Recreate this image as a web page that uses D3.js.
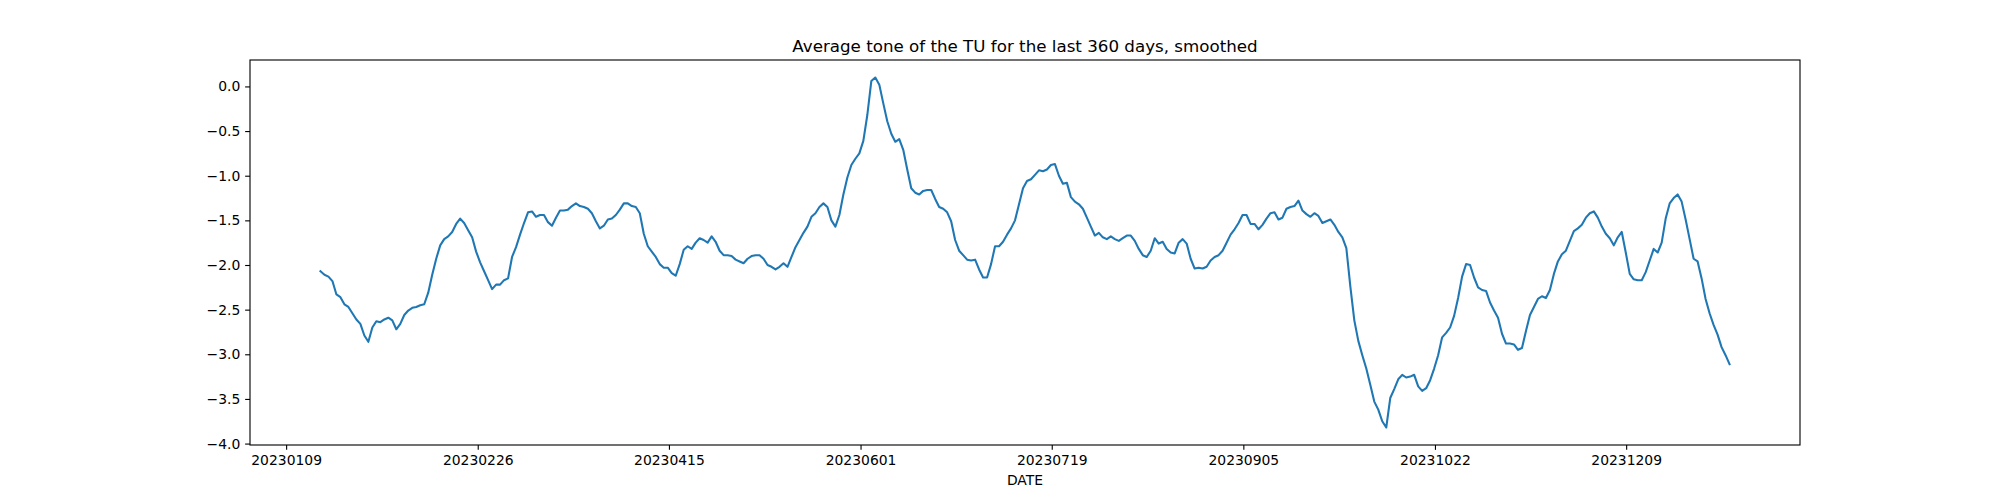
<!DOCTYPE html>
<html>
<head>
<meta charset="utf-8">
<script src="https://cdn.jsdelivr.net/npm/d3@7"></script>
<style>
  body { margin: 0; background: #fff; }
  svg { display: block; font-family: "DejaVu Sans", sans-serif; }
</style>
</head>
<body>
<svg id="chart" width="2000" height="500"></svg>
<script>

// chart texts
const title = "Average tone of the TU for the last 360 days, smoothed";
const xLabel = "DATE";

// smoothed average tone, one value per sample
const tone = [
  -2.07, -2.11, -2.13, -2.18, -2.33, -2.36, -2.44, -2.47, -2.54, -2.61,
  -2.66, -2.79, -2.86, -2.70, -2.63, -2.64, -2.61, -2.59, -2.62, -2.72,
  -2.66, -2.56, -2.51, -2.48, -2.47, -2.45, -2.44, -2.31, -2.11, -1.93,
  -1.78, -1.71, -1.68, -1.63, -1.54, -1.48, -1.53, -1.61, -1.69, -1.85,
  -1.97, -2.07, -2.17, -2.27, -2.22, -2.22, -2.17, -2.15, -1.91, -1.80,
  -1.66, -1.53, -1.41, -1.40, -1.46, -1.44, -1.44, -1.52, -1.56, -1.47,
  -1.39, -1.39, -1.38, -1.34, -1.31, -1.34, -1.35, -1.37, -1.42, -1.51,
  -1.59, -1.56, -1.49, -1.48, -1.44, -1.38, -1.31, -1.31, -1.34, -1.35,
  -1.42, -1.65, -1.79, -1.85, -1.91, -1.99, -2.03, -2.03, -2.09, -2.12,
  -1.99, -1.83, -1.79, -1.82, -1.75, -1.70, -1.72, -1.75, -1.68, -1.74,
  -1.84, -1.89, -1.89, -1.90, -1.94, -1.96, -1.98, -1.93, -1.90, -1.89,
  -1.89, -1.93, -2.00, -2.02, -2.05, -2.02, -1.98, -2.02, -1.91, -1.80,
  -1.72, -1.64, -1.57, -1.46, -1.42, -1.35, -1.31, -1.35, -1.50, -1.57,
  -1.44, -1.21, -1.02, -0.88, -0.81, -0.75, -0.61, -0.32, 0.06, 0.10,
  0.02, -0.19, -0.39, -0.53, -0.62, -0.59, -0.71, -0.93, -1.14, -1.19,
  -1.21, -1.17, -1.16, -1.16, -1.26, -1.35, -1.37, -1.41, -1.51, -1.72,
  -1.84, -1.89, -1.94, -1.95, -1.94, -2.05, -2.14, -2.14, -1.99, -1.79,
  -1.79, -1.74, -1.66, -1.59, -1.50, -1.32, -1.14, -1.06, -1.04, -0.99,
  -0.94, -0.95, -0.93, -0.88, -0.87, -1.00, -1.09, -1.08, -1.24, -1.29,
  -1.32, -1.37, -1.47, -1.57, -1.67, -1.64, -1.69, -1.71, -1.68, -1.71,
  -1.73, -1.70, -1.67, -1.67, -1.73, -1.82, -1.89, -1.91, -1.84, -1.70,
  -1.76, -1.74, -1.82, -1.86, -1.87, -1.75, -1.71, -1.76, -1.93, -2.04,
  -2.03, -2.04, -2.02, -1.95, -1.91, -1.89, -1.84, -1.75, -1.66, -1.60,
  -1.53, -1.44, -1.44, -1.54, -1.54, -1.60, -1.55, -1.48, -1.42, -1.41,
  -1.49, -1.47, -1.37, -1.35, -1.34, -1.28, -1.39, -1.43, -1.46, -1.42,
  -1.45, -1.53, -1.51, -1.49, -1.55, -1.63, -1.69, -1.81, -2.24, -2.62,
  -2.85, -3.01, -3.16, -3.34, -3.53, -3.62, -3.75, -3.82, -3.49, -3.39,
  -3.28, -3.23, -3.26, -3.25, -3.23, -3.36, -3.41, -3.38, -3.29, -3.16,
  -3.01, -2.81, -2.76, -2.70, -2.57, -2.37, -2.13, -1.99, -2.00, -2.14,
  -2.25, -2.28, -2.29, -2.42, -2.51, -2.59, -2.77, -2.88, -2.88, -2.89,
  -2.95, -2.93, -2.74, -2.56, -2.47, -2.38, -2.35, -2.37, -2.28, -2.10,
  -1.96, -1.88, -1.84, -1.73, -1.62, -1.59, -1.55, -1.47, -1.42, -1.40,
  -1.47, -1.57, -1.65, -1.70, -1.78, -1.69, -1.63, -1.86, -2.10, -2.16,
  -2.17, -2.17, -2.08, -1.95, -1.82, -1.86, -1.75, -1.48, -1.31, -1.25,
  -1.21, -1.29, -1.49, -1.71, -1.93, -1.96, -2.15, -2.38, -2.54, -2.67,
  -2.78, -2.92, -3.01, -3.11
];

// x tick positions (sample index) and their date labels
const xTickPos = [-8.6, 39.4, 87.3, 135.3, 183.2, 231.2, 279.2, 327.1];
const xTickLabels = [
  "20230109", "20230226", "20230415", "20230601",
  "20230719", "20230905", "20231022", "20231209"
];

// y ticks
const yTicks = [0.0, -0.5, -1.0, -1.5, -2.0, -2.5, -3.0, -3.5, -4.0];


class ToneChart {

  constructor(svgId, values,
    margin={top: 60, right: 200, bottom: 55, left: 250}) {

    this.svg = d3.select(`#${svgId}`);
    this.width = +this.svg.attr("width");
    this.height = +this.svg.attr("height");
    this.margin = margin;
    this.values = values;

    this.x = this.setXScale();
    this.y = this.setYScale();

    this.drawLine();
    this.setXAxis();
    this.setYAxis();
    this.drawFrame();
    this.drawTexts();
  }

  /* x scale, 5% padding like matplotlib */
  setXScale() {
    let n = this.values.length - 1;
    let pad = n * 0.05;
    return d3.scaleLinear()
      .domain([-pad, n + pad])
      .range([this.margin.left, this.width - this.margin.right]);
  }

  /* y scale, 5% padding */
  setYScale() {
    let [lo, hi] = d3.extent(this.values);
    let pad = (hi - lo) * 0.05;
    return d3.scaleLinear()
      .domain([lo - pad, hi + pad])
      .range([this.height - this.margin.bottom, this.margin.top]);
  }

  drawLine() {
    let line = d3.line()
      .x((d, i) => this.x(i))
      .y(d => this.y(d));

    this.svg.append("path")
      .datum(this.values)
      .attr("fill", "none")
      .attr("stroke", "#1f77b4")
      .attr("stroke-width", 2.08)
      .attr("stroke-linejoin", "round")
      .attr("stroke-linecap", "square")
      .attr("d", line);
  }

  setXAxis() {
    let g = this.svg.append("g")
      .attr("class", "x-axis")
      .attr("transform", `translate(0,${this.height - this.margin.bottom})`)
      .call(
        d3.axisBottom(this.x)
          .tickValues(xTickPos)
          .tickSize(4.86)
          .tickSizeOuter(0)
          .tickPadding(4.86)
          .tickFormat((d, i) => xTickLabels[i])
      );
    this.styleAxis(g);
    g.selectAll("text").attr("dy", "0.76em");
  }

  setYAxis() {
    let g = this.svg.append("g")
      .attr("class", "y-axis")
      .attr("transform", `translate(${this.margin.left},0)`)
      .call(
        d3.axisLeft(this.y)
          .tickValues(yTicks)
          .tickSize(4.86)
          .tickSizeOuter(0)
          .tickPadding(4.86)
          .tickFormat(d3.format(".1f"))
      );
    this.styleAxis(g);
  }

  styleAxis(g) {
    g.select("path.domain").remove();
    g.selectAll("line")
      .attr("stroke", "#000")
      .attr("stroke-width", 1.11);
    g.selectAll("text")
      .attr("fill", "#000")
      .style("font-size", "13.9px")
      .style("font-family", "DejaVu Sans");
  }

  /* axes box */
  drawFrame() {
    this.svg.append("rect")
      .attr("x", this.margin.left)
      .attr("y", this.margin.top)
      .attr("width", this.width - this.margin.left - this.margin.right)
      .attr("height", this.height - this.margin.top - this.margin.bottom)
      .attr("fill", "none")
      .attr("stroke", "#000")
      .attr("stroke-width", 1.11);
  }

  drawTexts() {
    let cx = (this.margin.left + this.width - this.margin.right) / 2;

    this.svg.append("text")
      .attr("x", cx)
      .attr("y", this.margin.top - 8.3)
      .attr("text-anchor", "middle")
      .style("font-size", "16.7px")
      .text(title);

    this.svg.append("text")
      .attr("x", cx)
      .attr("y", this.height - this.margin.bottom + 40)
      .attr("text-anchor", "middle")
      .style("font-size", "13.9px")
      .text(xLabel);
  }
}

let chart = new ToneChart("chart", tone);
</script>
</body>
</html>
